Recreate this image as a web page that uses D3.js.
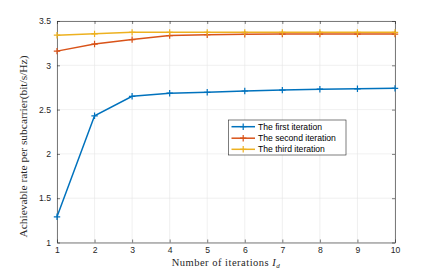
<!DOCTYPE html>
<html><head><meta charset="utf-8">
<script src="https://cdn.jsdelivr.net/npm/d3@7"></script>
<style>body{margin:0;background:#fff}svg{display:block}</style>
</head><body>
<script>
const iterations = [1,2,3,4,5,6,7,8,9,10];
const firstIter  = [1.29,2.43,2.65,2.685,2.695,2.71,2.72,2.73,2.735,2.74];
const secondIter = [3.16,3.24,3.29,3.335,3.345,3.35,3.352,3.352,3.352,3.352];
const thirdIter  = [3.34,3.355,3.372,3.372,3.372,3.372,3.372,3.372,3.372,3.372];
const seriesNames = ["The first iteration","The second iteration","The third iteration"];
const seriesColors = ["#0072BD","#D95319","#EDB120"];
const xTicks = [1,2,3,4,5,6,7,8,9,10];
const yTicks = [1,1.5,2,2.5,3,3.5];

const W=436,H=273;
const m={l:57,r:395,t:21,b:242.5};
const svg=d3.select("body").append("svg").attr("width",W).attr("height",H);
const x=d3.scaleLinear().domain([1,10]).range([m.l,m.r]);
const y=d3.scaleLinear().domain([1,3.5]).range([m.b,m.t]);
const axCol="#262626";

// grid
svg.append("g").selectAll("line").data(xTicks).join("line")
  .attr("x1",d=>x(d)).attr("x2",d=>x(d)).attr("y1",m.t).attr("y2",m.b)
  .attr("stroke","#e6e6e6").attr("stroke-width",0.6);
svg.append("g").selectAll("line").data(yTicks).join("line")
  .attr("y1",d=>y(d)).attr("y2",d=>y(d)).attr("x1",m.l).attr("x2",m.r)
  .attr("stroke","#e6e6e6").attr("stroke-width",0.6);

// axes
const fs="8.6px";
const gx=svg.append("g").attr("transform",`translate(0,${m.b})`)
  .call(d3.axisBottom(x).tickValues(xTicks).tickFormat(d3.format("d")).tickSizeInner(-3).tickSizeOuter(0).tickPadding(4));
const gy=svg.append("g").attr("transform",`translate(${m.l},0)`)
  .call(d3.axisLeft(y).tickValues(yTicks).tickFormat(d=>String(d)).tickSizeInner(-3).tickSizeOuter(0).tickPadding(6));
const gx2=svg.append("g").attr("transform",`translate(0,${m.t})`)
  .call(d3.axisTop(x).tickValues(xTicks).tickFormat("").tickSizeInner(-3).tickSizeOuter(0));
const gy2=svg.append("g").attr("transform",`translate(${m.r},0)`)
  .call(d3.axisRight(y).tickValues(yTicks).tickFormat("").tickSizeInner(-3).tickSizeOuter(0));
[gx,gy,gx2,gy2].forEach(g=>{
  g.selectAll("path,line").attr("stroke",axCol).attr("stroke-width",0.6);
  g.selectAll("text").attr("fill",axCol).style("font-family","Liberation Sans, Arial, sans-serif").style("font-size",fs);
});

// series
const all=[firstIter,secondIter,thirdIter];
const line=d3.line().x((d,i)=>x(iterations[i])).y(d=>y(d));
all.forEach((vals,si)=>{
  const g=svg.append("g");
  g.append("path").datum(vals).attr("d",line).attr("fill","none")
    .attr("stroke",seriesColors[si]).attr("stroke-width",1.5);
  g.selectAll("path.mk").data(vals).join("path").attr("class","mk")
    .attr("d",(d,i)=>{const cx=x(iterations[i]),cy=y(d),s=3.2;return `M${cx-s},${cy}H${cx+s}M${cx},${cy-s}V${cy+s}`;})
    .attr("stroke",seriesColors[si]).attr("stroke-width",1.2);
});

// legend
const lg=svg.append("g");
lg.append("rect").attr("x",228.5).attr("y",120).attr("width",117.5).attr("height",35)
  .attr("fill","#fff").attr("stroke",axCol).attr("stroke-width",0.6);
const rows=[126.7,138.2,149.3];
seriesNames.forEach((n,i)=>{
  lg.append("line").attr("x1",231.5).attr("x2",255).attr("y1",rows[i]).attr("y2",rows[i])
    .attr("stroke",seriesColors[i]).attr("stroke-width",1.5);
  lg.append("path").attr("d",`M${243.2-3.2},${rows[i]}H${243.2+3.2}M243.2,${rows[i]-3.2}V${rows[i]+3.2}`)
    .attr("stroke",seriesColors[i]).attr("stroke-width",1.2);
  lg.append("text").attr("x",258).attr("y",rows[i]+3).text(n)
    .attr("fill","#000").style("font-family","Liberation Sans, Arial, sans-serif").style("font-size","8.6px");
});

// labels
svg.append("text").attr("x",226).attr("y",266).attr("text-anchor","middle")
  .style("font-family","Liberation Serif, serif").style("font-size","10.5px").style("letter-spacing","0.5px").attr("fill",axCol)
  .html('Number of iterations <tspan font-style="italic">I</tspan><tspan font-style="italic" font-size="7px" dy="2">d</tspan>');
svg.append("text").attr("transform","translate(27,146.5) rotate(-90)").attr("text-anchor","middle")
  .attr("textLength",182).attr("lengthAdjust","spacingAndGlyphs")
  .style("font-family","Liberation Serif, serif").style("font-size","9.5px").attr("fill",axCol)
  .text("Achievable rate per subcarrier(bit/s/Hz)");
</script>
</body></html>
